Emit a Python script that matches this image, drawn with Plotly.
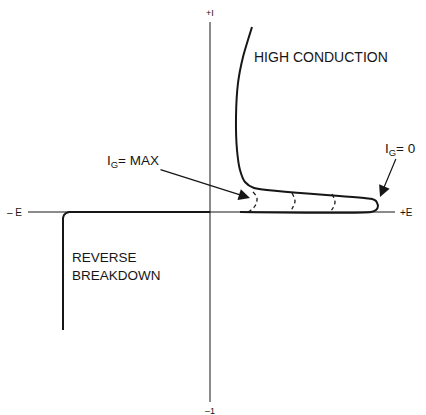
import plotly.graph_objects as go

# voltage (E) / current (I) in arbitrary units, origin at axis crossing
axis_e = [-182, 185]
axis_i = [190, -190]

reverse_e = [-147, -147, -146, -144, -141, 0]
reverse_i = [-118, -6, -3, -1, 0, 0]

conduction_e = [42, 33, 28, 26, 27, 30, 35, 44, 162, 166, 168, 166, 161, 30]
conduction_i = [185, 155, 129, 95, 62, 42, 30, 24, 13, 11, 6, 2, 0, 0]

gate_curves = [
    ([43, 47, 45, 38], [20, 14, 6, 0]),
    ([82, 85, 83, 80], [19, 11, 5, 0]),
    ([122, 125, 123, 120], [18, 10, 4, 0]),
]

INK = "#161616"
FONT = "Liberation Sans, Arial, sans-serif"

fig = go.Figure()

# axes
fig.add_trace(go.Scatter(x=axis_e, y=[0, 0], mode="lines", line=dict(color=INK, width=1)))
fig.add_trace(go.Scatter(x=[0, 0], y=axis_i, mode="lines", line=dict(color=INK, width=1)))

fig.add_trace(go.Scatter(x=reverse_e, y=reverse_i, mode="lines", line=dict(color=INK, width=2)))
fig.add_trace(go.Scatter(x=conduction_e, y=conduction_i, mode="lines", line_shape="spline",
                         line=dict(color=INK, width=2, smoothing=0.6)))
for ge, gi in gate_curves:
    fig.add_trace(go.Scatter(x=ge, y=gi, mode="lines", line_shape="spline",
                             line=dict(color=INK, width=1.3, dash="4px,3px")))

labels = [
    (0, 199, "+I", 9, "center", "middle"),
    (0, -199, "\u20131", 9, "center", "middle"),
    (-186, 0, "\u2013 E", 10, "right", "middle"),
    (188, 0, "+E", 10, "left", "middle"),
    (42, 155, "HIGH CONDUCTION", 14, "left", "middle"),
    (-140, -54, "REVERSE<br>BREAKDOWN", 13.5, "left", "middle"),
]
for e, i, txt, size, xa, ya in labels:
    fig.add_annotation(x=e, y=i, text=txt, showarrow=False, xanchor=xa, yanchor=ya,
                       align="left", font=dict(family=FONT, size=size, color=INK))

# pointer labels: (text position, arrow tip)
pointers = [
    ("I<sub>G</sub>= MAX", (-77, 51), (40, 14)),
    ("I<sub>G</sub>= 0", (190, 63), (170, 15)),
]
for txt, (te, ti), (he, hi) in pointers:
    fig.add_annotation(x=he, y=hi, ax=te, ay=ti, axref="x", ayref="y", text=txt,
                       font=dict(family=FONT, size=13.5, color=INK),
                       showarrow=True, arrowhead=2, arrowsize=1.9, arrowwidth=1.2,
                       arrowcolor=INK, standoff=0)

fig.update_layout(
    width=426, height=415,
    margin=dict(l=0, r=0, t=0, b=0),
    paper_bgcolor="white", plot_bgcolor="white",
    showlegend=False,
    xaxis=dict(range=[-210, 216], visible=False, fixedrange=True),
    yaxis=dict(range=[-203, 212], visible=False, fixedrange=True),
)

fig.write_html("out.html", config={"displayModeBar": False},
               post_script="document.body.style.margin='0';")
